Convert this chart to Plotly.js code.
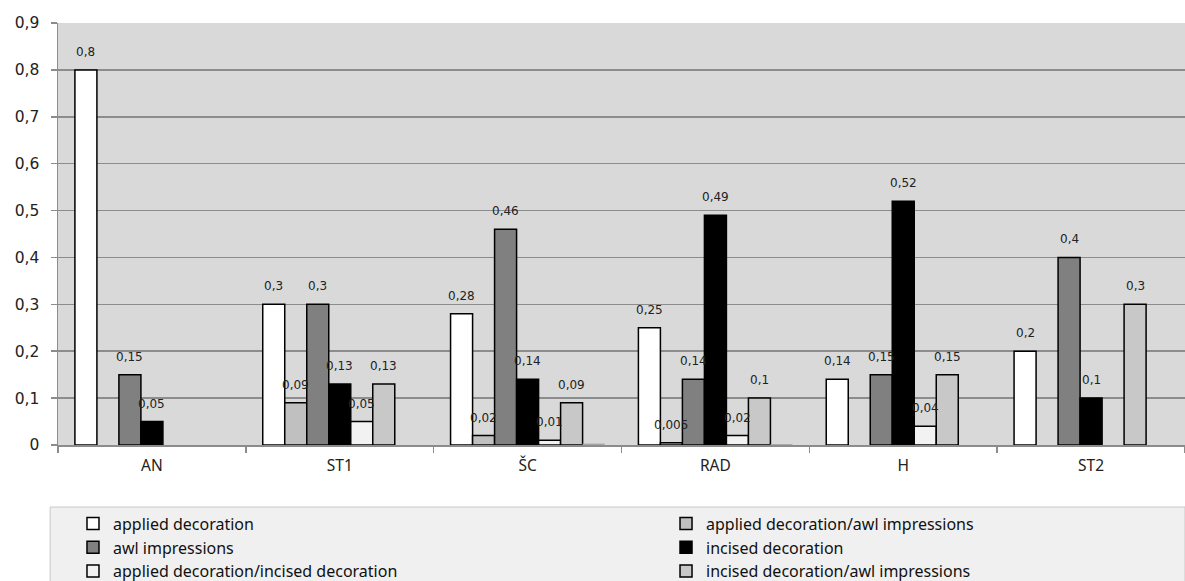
<!DOCTYPE html>
<html>
<head>
<meta charset="utf-8">
<script src="https://cdn.plot.ly/plotly-3.0.1.min.js"></script>
<style>
html,body{margin:0;padding:0;background:#fff;}
#chart{width:1185px;height:581px;}
</style>
</head>
<body>
<div id="chart"></div>
<script>
var categories = ["AN", "ST1", "ŠC", "RAD", "H", "ST2"];

var appliedDecoration        = [0.8, 0.3, 0.28, 0.25, 0.14, 0.2];
var appliedAwl               = [null, 0.09, 0.02, 0.005, null, null];
var awlImpressions           = [0.15, 0.3, 0.46, 0.14, 0.15, 0.4];
var incisedDecoration        = [0.05, 0.13, 0.14, 0.49, 0.52, 0.1];
var appliedIncised           = [null, 0.05, 0.01, 0.02, 0.04, null];
var incisedAwl               = [null, 0.13, 0.09, 0.1, 0.15, 0.3];
var otherSmall               = [null, null, 0.003, 0.002, null, null];

var seriesNames = [
  "applied decoration",
  "applied decoration/awl impressions",
  "awl impressions",
  "incised decoration",
  "applied decoration/incised decoration",
  "incised decoration/awl impressions"
];
var seriesValues = [appliedDecoration, appliedAwl, awlImpressions, incisedDecoration, appliedIncised, incisedAwl];
var seriesColors = ["#ffffff", "#c0c0c0", "#808080", "#000000", "#f2f2f2", "#c8c8c8"];

var W = 1185, H = 581;
var M = {l: 58, r: 0, t: 23, b: 136};
var BARGAP = 0.18;
var NSLOTS = 7;
var plotW = W - M.l - M.r;
var slotPx = plotW / categories.length * (1 - BARGAP) / NSLOTS;

function fmt(v) { return String(v).replace(".", ","); }

var traces = seriesValues.map(function (vals, i) {
  return {
    type: "bar",
    name: seriesNames[i],
    legend: (i % 2 === 0) ? "legend" : "legend2",
    x: categories,
    y: vals,
    marker: {color: seriesColors[i], line: {color: "#000", width: 1.5}},
    hoverinfo: "skip"
  };
});
traces.push({
  type: "bar",
  name: "other",
  x: categories,
  y: otherSmall,
  showlegend: false,
  marker: {color: "#a6a6a6", line: {width: 0}},
  hoverinfo: "skip"
});

var annotations = [];
seriesValues.forEach(function (vals, i) {
  vals.forEach(function (v, j) {
    if (v === null) return;
    annotations.push({
      xref: "x", yref: "y",
      x: categories[j], y: v,
      text: fmt(v),
      showarrow: false,
      xshift: (i - (NSLOTS - 1) / 2) * slotPx,
      yshift: 18,
      xanchor: "center", yanchor: "middle",
      font: {family: "DejaVu Sans", size: 12, color: "#222"}
    });
  });
});

var legendCommon = {
  orientation: "v",
  xanchor: "left",
  y: -0.146,
  yanchor: "top",
  bgcolor: "rgba(0,0,0,0)",
  borderwidth: 0,
  font: {family: "Noto Sans", size: 16, color: "#111"},
  traceorder: "normal"
};

var layout = {
  width: W,
  height: H,
  margin: {l: M.l, r: M.r, t: M.t, b: M.b, autoexpand: false},
  paper_bgcolor: "#ffffff",
  plot_bgcolor: "#d9d9d9",
  separators: ", ",
  barmode: "group",
  bargap: BARGAP,
  bargroupgap: 0,
  showlegend: true,
  font: {family: "Noto Sans", color: "#222"},
  xaxis: {
    type: "category",
    showline: true,
    linecolor: "#8c8c8c",
    linewidth: 1.5,
    ticks: "outside",
    tickson: "boundaries",
    ticklen: 6,
    tickcolor: "#8c8c8c",
    tickwidth: 1.5,
    showgrid: false,
    tickfont: {family: "Noto Sans", size: 15.5, color: "#222"},
    ticklabelstandoff: 6
  },
  yaxis: {
    range: [0, 0.9],
    dtick: 0.1,
    tick0: 0,
    showline: true,
    linecolor: "#8c8c8c",
    linewidth: 1.5,
    ticks: "outside",
    ticklen: 6,
    tickcolor: "#8c8c8c",
    tickwidth: 1.5,
    gridcolor: "#8c8c8c",
    gridwidth: 1.5,
    zeroline: false,
    tickfont: {family: "DejaVu Sans", size: 15.5, color: "#222"},
    ticklabelstandoff: 8
  },
  legend: Object.assign({x: 0.0133}, legendCommon),
  legend2: Object.assign({x: 0.5395}, legendCommon),
  annotations: annotations,
  shapes: [{
    type: "rect",
    xref: "paper", yref: "paper",
    x0: -0.007, x1: 1,
    y0: -0.147, y1: -0.33,
    fillcolor: "#f0f0f0",
    line: {color: "#c8c8c8", width: 1},
    layer: "below"
  }]
};

Plotly.newPlot("chart", traces, layout, {displayModeBar: false, staticPlot: true});
</script>
</body>
</html>
